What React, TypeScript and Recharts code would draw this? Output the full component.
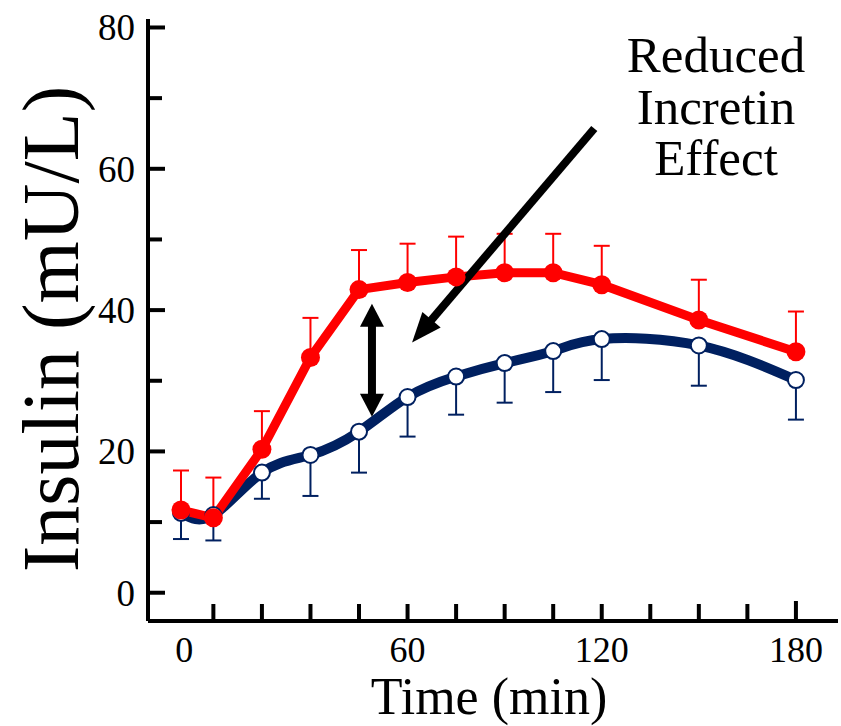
import React from 'react';
import { LineChart, Line, XAxis, YAxis, ErrorBar, ReferenceLine, Customized } from 'recharts';

// sampling times (min)
const times = [-10, 0, 15, 30, 45, 60, 75, 90, 105, 120, 150, 180];

// oral glucose (red, SEM drawn upward)
const oralInsulin = [11.7, 10.6, 20.3, 33.3, 42.9, 43.9, 44.7, 45.3, 45.3, 43.6, 38.6, 34.1];
const oralSem = [5.6, 5.7, 5.4, 5.6, 5.6, 5.5, 5.7, 5.5, 5.5, 5.5, 5.7, 5.7];

// isoglycaemic iv glucose (navy, SEM drawn downward)
const ivInsulin = [11.3, 11.0, 17.0, 19.5, 22.8, 27.7, 30.6, 32.5, 34.2, 35.9, 35.0, 30.1];
const ivSem = [3.7, 3.6, 3.7, 5.8, 5.8, 5.6, 5.4, 5.6, 5.8, 5.8, 5.7, 5.6];

const xTickMarks = [0, 15, 30, 45, 60, 75, 90, 105, 120, 135, 150, 165, 180];
// the "0" label sits under the first (basal) sample in the original
const xLabelAt = [-9, 60, 120, 180];
const xLabelText = ['0', '60', '120', '180'];

const yTickMarks = [0, 10, 20, 30, 40, 50, 60, 70, 80];
const yLabelled = [0, 20, 40, 60, 80];

const annotationLines = ['Reduced', 'Incretin', 'Effect'];

const RED = '#ff0000';
const NAVY = '#002060';
const FONT = '"Liberation Serif", "Times New Roman", serif';

const data = times.map((t, i) => ({
  t,
  oral: oralInsulin[i],
  oralErr: [0, oralSem[i]],
  iv: ivInsulin[i],
  ivErr: [ivSem[i], 0],
}));

const allXTicks = Array.from(new Set([...xLabelAt, ...xTickMarks])).sort((a, b) => a - b);

const XTick = (props: any) => {
  const { x, y, payload } = props;
  const v = payload.value;
  const li = xLabelAt.indexOf(v);
  return (
    <g>
      {xTickMarks.includes(v) && (
        <line x1={x} x2={x} y1={y} y2={y - (v === 180 ? 20 : 17)} stroke="#000" strokeWidth={4} />
      )}
      {li >= 0 && (
        <text x={x} y={y + 41} textAnchor="middle" fontFamily={FONT} fontSize={36} fill="#000">
          {xLabelText[li]}
        </text>
      )}
    </g>
  );
};

const YTick = (props: any) => {
  const { x, y, payload } = props;
  const v = payload.value;
  return (
    <g>
      <line x1={x} x2={x + (v % 20 === 0 ? 17 : 14)} y1={y} y2={y} stroke="#000" strokeWidth={4} />
      {yLabelled.includes(v) && (
        <text x={x - 13} y={y} dy="0.35em" textAnchor="end" fontFamily={FONT} fontSize={37} fill="#000">
          {v}
        </text>
      )}
    </g>
  );
};

const Arrow = (props: any) => {
  const { x1, y1, x2, y2, head, half, width, both } = props;
  const len = Math.hypot(x2 - x1, y2 - y1) || 1;
  const ux = (x2 - x1) / len;
  const uy = (y2 - y1) / len;
  const nx = -uy;
  const ny = ux;
  const tri = (tx: number, ty: number, dx: number, dy: number) => {
    const bx = tx - dx * head;
    const by = ty - dy * head;
    return `${tx},${ty} ${bx + nx * half},${by + ny * half} ${bx - nx * half},${by - ny * half}`;
  };
  const sx = both ? x1 + ux * head * 0.9 : x1;
  const sy = both ? y1 + uy * head * 0.9 : y1;
  return (
    <g>
      <line x1={sx} y1={sy} x2={x2 - ux * head * 0.9} y2={y2 - uy * head * 0.9} stroke="#000" strokeWidth={width} />
      <polygon points={tri(x2, y2, ux, uy)} fill="#000" />
      {both && <polygon points={tri(x1, y1, -ux, -uy)} fill="#000" />}
    </g>
  );
};

const Annotation = () => (
  <g>
    {annotationLines.map((s, i) => (
      <text key={s} x={716} y={72 + i * 51.5} textAnchor="middle" fontFamily={FONT} fontSize={51} fill="#000">
        {s}
      </text>
    ))}
  </g>
);

const XTitle = (props: any) => {
  const { viewBox } = props;
  return (
    <text x={489} y={viewBox.y + 93} textAnchor="middle" fontFamily={FONT} fontSize={52} fill="#000">
      Time (min)
    </text>
  );
};

const YTitle = (props: any) => {
  const { viewBox } = props;
  const cx = 78;
  const cy = viewBox.y + viewBox.height / 2 + 9;
  return (
    <text x={cx} y={cy} transform={`rotate(-90 ${cx} ${cy})`} textAnchor="middle" fontFamily={FONT} fontSize={80} fill="#000">
      Insulin (mU/L)
    </text>
  );
};

export default function App() {
  return (
    <div style={{ position: 'absolute', left: 0, top: 0, background: '#fff' }}>
      <LineChart width={841} height={726} data={data} margin={{ top: 19, right: 3, left: 0, bottom: 0 }}>
        <XAxis
          dataKey="t"
          type="number"
          domain={[-20.2, 193]}
          ticks={allXTicks}
          interval={0}
          height={105}
          tickSize={0}
          tickMargin={0}
          tick={<XTick />}
          axisLine={{ stroke: '#000', strokeWidth: 4 }}
          tickLine={false}
          allowDataOverflow
          label={{ content: <XTitle /> }}
        />
        <YAxis
          type="number"
          domain={[-4, 81.2]}
          ticks={yTickMarks}
          interval={0}
          width={148}
          tickSize={0}
          tickMargin={0}
          tick={<YTick />}
          axisLine={{ stroke: '#000', strokeWidth: 4 }}
          tickLine={false}
          allowDataOverflow
          label={{ content: <YTitle /> }}
        />
        <Line
          dataKey="iv"
          type="natural"
          stroke={NAVY}
          strokeWidth={10}
          dot={{ r: 8, fill: '#fff', stroke: NAVY, strokeWidth: 2 }}
          activeDot={false}
          isAnimationActive={false}
        >
          <ErrorBar dataKey="ivErr" direction="y" width={8} stroke={NAVY} strokeWidth={2} isAnimationActive={false} />
        </Line>
        <Line
          dataKey="oral"
          type="linear"
          stroke={RED}
          strokeWidth={9}
          dot={{ r: 9.5, fill: RED, stroke: 'none' }}
          activeDot={false}
          isAnimationActive={false}
        >
          <ErrorBar dataKey="oralErr" direction="y" width={8} stroke={RED} strokeWidth={2} isAnimationActive={false} />
        </Line>
        <ReferenceLine
          segment={[{ x: 117.7, y: 65.7 }, { x: 61.4, y: 35.4 }]}
          shape={(p: any) => <Arrow {...p} head={30} half={12} width={8} both={false} />}
        />
        <ReferenceLine
          segment={[{ x: 49, y: 40.9 }, { x: 49, y: 24.9 }]}
          shape={(p: any) => <Arrow {...p} head={23} half={12} width={8} both />}
        />
        <Customized component={<Annotation />} />
      </LineChart>
    </div>
  );
}
